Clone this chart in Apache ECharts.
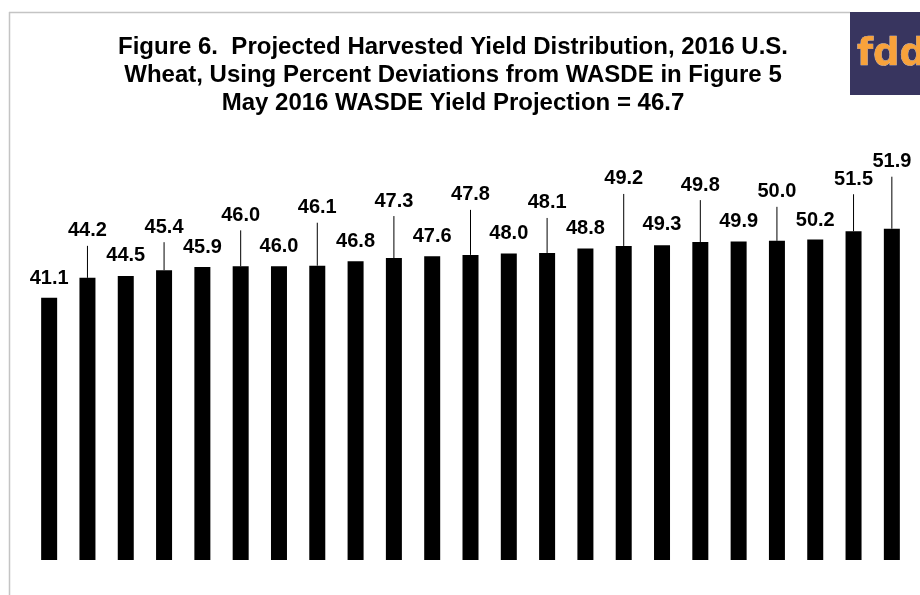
<!DOCTYPE html>
<html style="height: 100%">
    <head>
        <meta charset="utf-8">
    </head>
    <body style="height: 100%; margin: 0">
        <div id="container" style="height: 595px; width: 920px;"></div>

        <script type="text/javascript" src="https://cdn.jsdelivr.net/npm/echarts@6/dist/echarts.min.js"></script>
        <script type="text/javascript">
var dom = document.getElementById("container");
var myChart = echarts.init(dom);

// yield values, sorted low to high
var yields = [
	41.1, 44.2, 44.5, 45.4, 45.9, 46.0, 46.0, 46.1, 46.8, 47.3, 47.6, 47.8,
	48.0, 48.1, 48.8, 49.2, 49.3, 49.8, 49.9, 50.0, 50.2, 51.5, 51.9
];
var categories = yields.map(function (v, i) { return 'obs' + (i + 1); });

// how far (px) each label sits above its bar, the raised ones get a leader line
var labelLift = [19, 47, 20, 43, 20, 51, 20, 58, 20, 57, 20, 60, 20, 50, 20, 67, 21, 57, 20, 49, 19, 52, 67];

var titleText = 'Figure 6.  Projected Harvested Yield Distribution, 2016 U.S.\n' +
	'Wheat, Using Percent Deviations from WASDE in Figure 5\n' +
	'May 2016 WASDE Yield Projection = 46.7';

var FONT = 'Liberation Sans';

var barData = yields.map(function (v, i) {
	return {value: v, label: {distance: labelLift[i] - 10}};
});

var option = {
	animation: false,
	title: {
		text: titleText,
		left: 448,
		textAlign: 'center',
		top: 28,
		textStyle: {
			fontFamily: FONT,
			fontSize: 24,
			fontWeight: 'bold',
			lineHeight: 28,
			color: '#000'
		}
	},
	grid: {
		left: 30,
		right: 9,
		top: 177,
		bottom: 35
	},
	xAxis: {
		type: 'category',
		data: categories,
		show: false
	},
	yAxis: {
		type: 'value',
		min: 0,
		max: 60,
		show: false
	},
	graphic: [
		{
			type: 'line',
			shape: {x1: 9.5, y1: 12, x2: 9.5, y2: 595},
			style: {stroke: '#c4c4c4', lineWidth: 1.5}
		},
		{
			type: 'line',
			shape: {x1: 9, y1: 12.5, x2: 850, y2: 12.5},
			style: {stroke: '#c4c4c4', lineWidth: 1.5}
		},
		{
			type: 'rect',
			shape: {x: 850, y: 12, width: 70, height: 83},
			style: {fill: '#38355f'}
		},
		{
			type: 'text',
			x: 857,
			y: 55,
			style: {
				text: 'fdd',
				fill: '#f8a23b',
				stroke: '#d9d2d0',
				lineWidth: 0.6,
				font: 'bold 37px "DejaVu Sans"',
				verticalAlign: 'middle'
			}
		}
	],
	series: [
		{
			type: 'bar',
			data: barData,
			barWidth: 16,
			itemStyle: {color: '#000'},
			label: {
				show: true,
				position: 'top',
				formatter: function (p) { return p.value.toFixed(1); },
				fontFamily: FONT,
				fontSize: 20,
				fontWeight: 'bold',
				color: '#000'
			}
		},
		{
			// leader lines from bar tops to raised labels
			type: 'custom',
			data: yields.map(function (v, i) { return [i, v]; }),
			silent: true,
			renderItem: function (params, api) {
				var lift = labelLift[params.dataIndex];
				if (lift < 30) return null;
				var pt = api.coord([api.value(0), api.value(1)]);
				return {
					type: 'line',
					shape: {x1: pt[0], y1: pt[1], x2: pt[0], y2: pt[1] - (lift - 15)},
					style: {stroke: '#000', lineWidth: 1}
				};
			}
		}
	]
};

myChart.setOption(option);
        </script>
    </body>
</html>
